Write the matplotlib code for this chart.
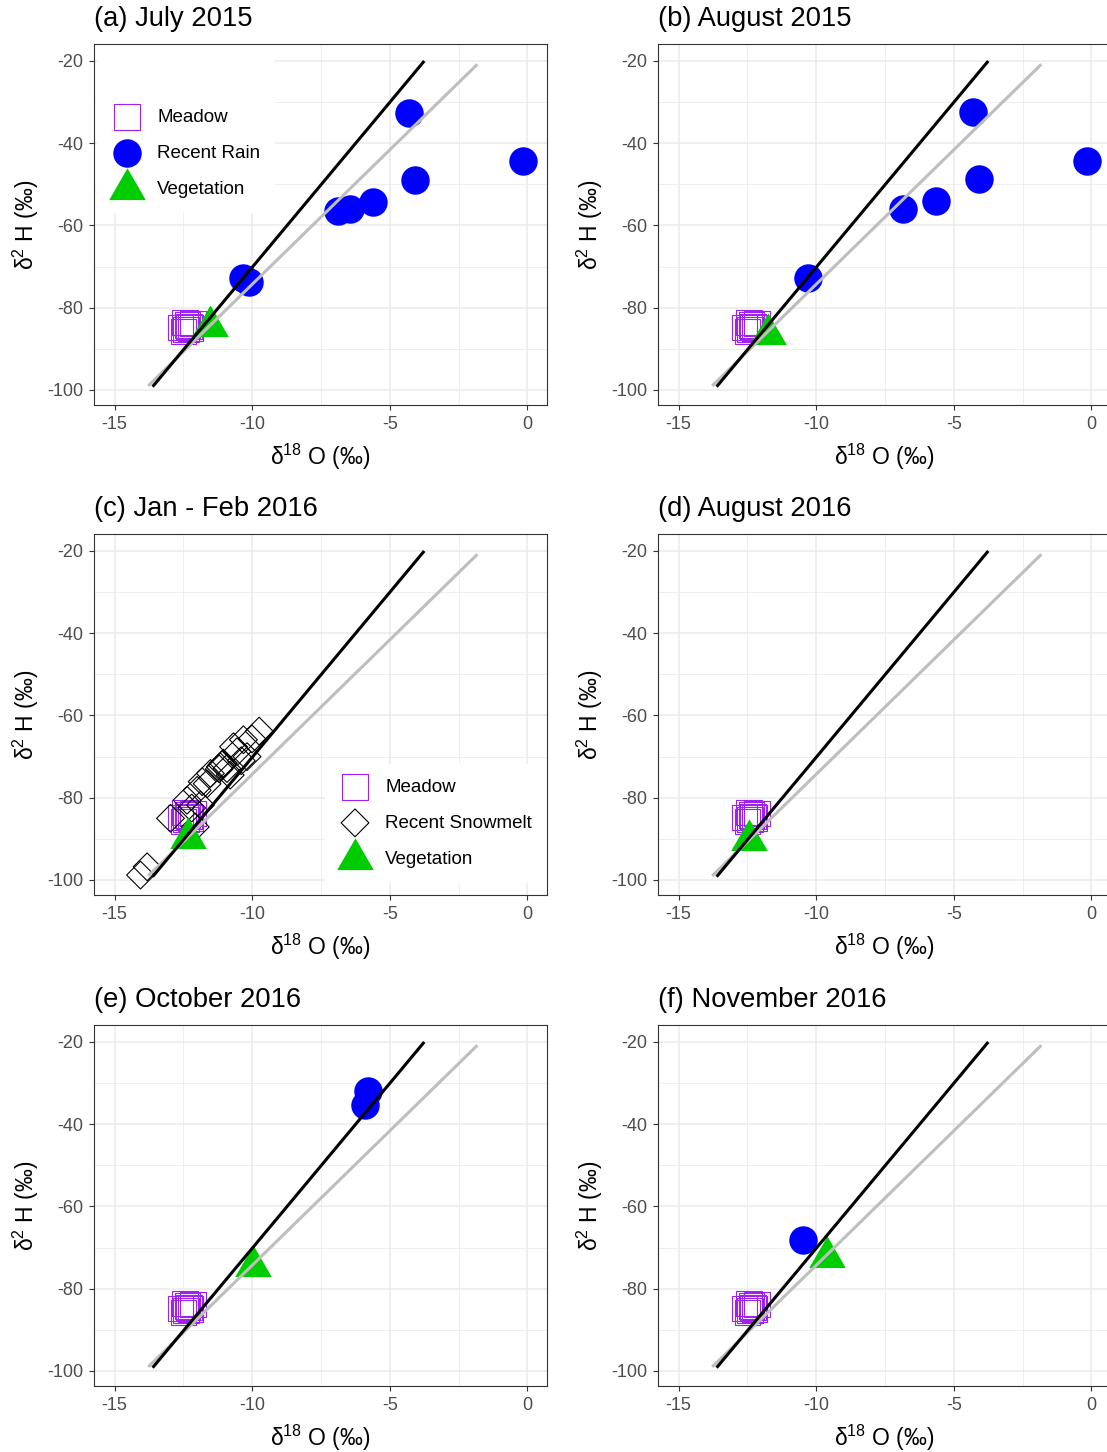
import matplotlib
matplotlib.use("Agg")
import matplotlib.pyplot as plt
from matplotlib.path import Path
from matplotlib.ticker import MultipleLocator

plt.rcParams["font.family"] = ["Liberation Sans", "DejaVu Sans"]
plt.rcParams["mathtext.fontset"] = "custom"
plt.rcParams["mathtext.rm"] = "Liberation Sans"
plt.rcParams["axes.unicode_minus"] = False

# ---- data ----
titles = ["(a) July 2015", "(b) August 2015", "(c) Jan - Feb 2016",
          "(d) August 2016", "(e) October 2016", "(f) November 2016"]

# meadow samples (same cluster in every panel)
meadow_x = [-12.6, -12.45, -12.35, -12.25, -12.5, -12.3, -12.15, -12.4]
meadow_y = [-84.8, -83.6, -84.2, -85.0, -85.8, -84.6, -83.8, -85.3]

# recent rain, per panel (None = no rain in that panel)
rain_a_x = [-10.33, -10.12, -4.31, -0.17, -4.09, -5.61, -6.45, -6.9]
rain_a_y = [-72.8, -73.7, -32.6, -44.3, -48.9, -54.3, -55.9, -56.4]
rain_b_x = [-10.3, -4.3, -0.18, -4.1, -5.64, -6.85]
rain_b_y = [-72.8, -32.4, -44.2, -48.7, -54.1, -56.0]
rain_e_x = [-5.8, -5.91]
rain_e_y = [-31.9, -35.3]
rain_f_x = [-10.49]
rain_f_y = [-68.2]

# recent snowmelt (panel c)
snow_x = [-14.06, -13.82, -12.97, -12.07, -12.37, -12.0, -11.82, -11.52, -11.64,
          -11.16, -11.05, -10.92, -10.68, -10.55, -10.32, -10.19, -9.75, -10.01,
          -10.8, -11.88, -11.2, -11.1, -10.4, -12.2]
snow_y = [-98.8, -96.8, -85.0, -87.1, -80.6, -78.2, -76.1, -74.1, -76.6,
          -72.5, -71.6, -72.9, -67.6, -68.8, -65.9, -70.0, -63.8, -65.7,
          -74.5, -81.8, -73.0, -72.0, -71.0, -82.5]

# vegetation, one per panel
veg_x = [-11.55, -11.77, -12.33, -12.46, -9.96, -9.62]
veg_y = [-84.5, -86.3, -89.8, -90.3, -74.4, -72.2]

# water lines (end points)
gmwl_x = [-13.62, -3.75]
gmwl_y = [-99.2, -20.0]
lmwl_x = [-13.78, -1.82]
lmwl_y = [-99.0, -20.8]

rain_x = [rain_a_x, rain_b_x, None, None, rain_e_x, rain_f_x]
rain_y = [rain_a_y, rain_b_y, None, None, rain_e_y, rain_f_y]

W, H = 1107, 1452
col_x = [94, 658]
row_top = [44, 534, 1025]
aw, ah = 453, 361

PURPLE = "#A020F0"
BLUE = "#0000FF"
GREEN = "#00CD00"

# ggplot style triangle, centred on its centroid
tri = Path([(0, 1), (-0.866, -0.5), (0.866, -0.5), (0, 1)],
           [Path.MOVETO, Path.LINETO, Path.LINETO, Path.CLOSEPOLY])

fig = plt.figure(figsize=(W / 100, H / 100), dpi=100)

for i, title in enumerate(titles):
    r, c = divmod(i, 2)
    x0 = col_x[c]
    top = row_top[r]
    ax = fig.add_axes([x0 / W, 1 - (top + ah) / H, aw / W, ah / H])

    ax.scatter(meadow_x, meadow_y, marker="s", s=340, facecolors="none",
               edgecolors=PURPLE, linewidths=0.8, label="Meadow", zorder=3)
    if i == 2:
        ax.scatter(snow_x, snow_y, marker="D", s=200, facecolors="none",
                   edgecolors="black", linewidths=0.8, label="Recent Snowmelt", zorder=3)
    elif rain_x[i] is not None:
        ax.scatter(rain_x[i], rain_y[i], marker="o", s=420, color=BLUE,
                   linewidths=0, label="Recent Rain", zorder=3)
    ax.scatter([veg_x[i]], [veg_y[i]], marker=tri, s=930, color=GREEN,
               linewidths=0, label="Vegetation", zorder=4)

    ax.plot(lmwl_x, lmwl_y, color="#BEBEBE", lw=2.2, solid_capstyle="butt", zorder=5)
    ax.plot(gmwl_x, gmwl_y, color="black", lw=2.2, solid_capstyle="butt", zorder=6)

    ax.set_xlim(-15.75, 0.71)
    ax.set_ylim(-103.65, -15.87)
    ax.set_xticks([-15, -10, -5, 0])
    ax.set_yticks([-100, -80, -60, -40, -20])
    ax.xaxis.set_minor_locator(MultipleLocator(2.5))
    ax.yaxis.set_minor_locator(MultipleLocator(10))
    ax.grid(True, which="major", color="#EBEBEB", lw=1.1)
    ax.grid(True, which="minor", color="#EBEBEB", lw=0.55)
    ax.set_axisbelow(True)
    ax.tick_params(which="major", length=3.5, width=0.8, color="#333333",
                   labelsize=13, labelcolor="#4D4D4D", pad=4.5)
    ax.tick_params(which="minor", length=0)
    for sp in ax.spines.values():
        sp.set_color("#333333")
        sp.set_linewidth(0.8)

    ax.set_xlabel("$\\mathregular{\u03b4^{18}}$ O (\u2030)", fontsize=16.5, labelpad=6.5)
    ax.set_ylabel("$\\mathregular{\u03b4^{2}}$ H (\u2030)", fontsize=16.5, labelpad=4)
    ax.set_title(title, loc="left", fontsize=19.7, pad=13)

    opts = dict(loc="upper left", borderaxespad=0, fontsize=13.5, frameon=True,
                fancybox=False, framealpha=1, facecolor="white", edgecolor="none",
                scatterpoints=1, handlelength=1.6, handletextpad=0.8,
                labelspacing=1.01, borderpad=0.8)
    if i == 0:
        leg = ax.legend(bbox_to_anchor=(0.007, 0.998), title=" ", title_fontsize=22, **opts)
        leg.set_zorder(2)
    elif i == 2:
        leg = ax.legend(bbox_to_anchor=(0.51, 0.364), **opts)
        leg.set_zorder(2)

fig.savefig("out.png", dpi=100)
